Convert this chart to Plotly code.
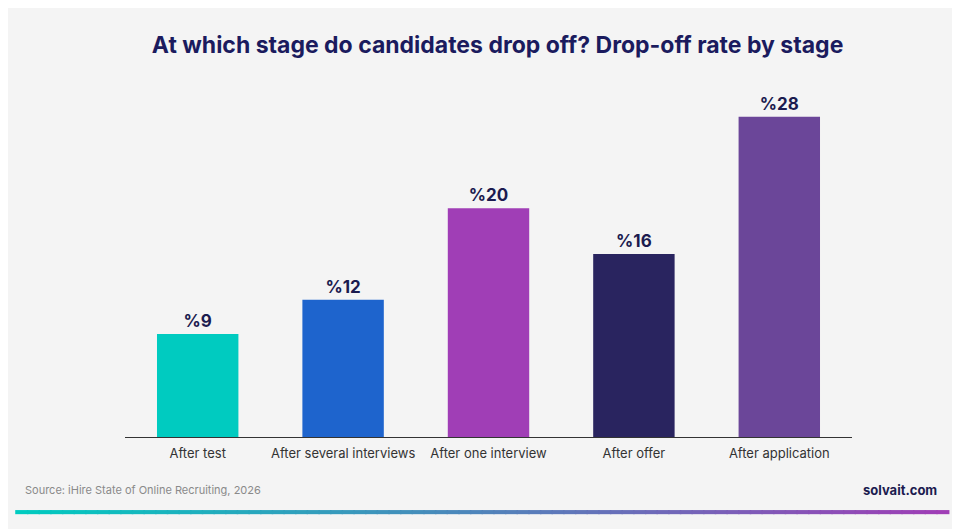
import plotly.graph_objects as go

stages = ['After test', 'After several interviews', 'After one interview', 'After offer', 'After application']
rates = [9, 12, 20, 16, 28]
colors = ['#00CBC0', '#1E64CD', '#A03EB6', '#29245F', '#6B4699']

fig = go.Figure(go.Bar(
    x=stages, y=rates,
    marker=dict(color=colors, line=dict(width=0)),
    text=[f'<b>%{r}</b>' for r in rates],
    textposition='outside',
    textfont=dict(family='Inter, Noto Sans', size=17, color='#1B1B4F'),
    cliponaxis=False,
))

# gradient strip at the bottom
n = 80
x_start, x_end = -0.151, 1.132
c0, c1 = (0x00, 0xCB, 0xC0), (0xA0, 0x3E, 0xB6)
shapes = []
step = (x_end - x_start) / n
for i in range(n):
    t = i / (n - 1)
    c = tuple(int(a + (b - a) * t) for a, b in zip(c0, c1))
    shapes.append(dict(type='rect', xref='paper', yref='paper',
                       x0=x_start + i * step, x1=x_start + (i + 1) * step + 0.002,
                       y0=-0.225, y1=-0.213, line=dict(width=0),
                       fillcolor='rgb(%d,%d,%d)' % c))

fig.update_layout(
    width=960, height=529,
    paper_bgcolor='#F4F4F4', plot_bgcolor='#F4F4F4',
    margin=dict(l=117, r=116, t=86, b=100),
    bargap=0.44,
    showlegend=False,
    shapes=shapes,
    title=dict(text='<b>At which stage do candidates drop off? Drop-off rate by stage</b>',
               x=0.51, xanchor='center', y=0.945,
               font=dict(family='Inter, Noto Sans', size=23, color='#1B1B5E')),
    font=dict(family='Inter, Noto Sans'),
    annotations=[
        dict(text='Source: iHire State of Online Recruiting, 2026', xref='paper', yref='paper',
             x=-0.14, y=-0.155, xanchor='left', yanchor='middle', showarrow=False,
             font=dict(size=11, color='#8A8A8A')),
        dict(text='<b>solvait.com</b>', xref='paper', yref='paper',
             x=1.12, y=-0.155, xanchor='right', yanchor='middle', showarrow=False,
             font=dict(size=13, color='#1B1B4F')),
    ],
)
fig.update_xaxes(showline=True, linecolor='#333333', linewidth=1,
                 tickfont=dict(size=13, color='#333333'), ticks='', ticklabelstandoff=4)
fig.update_yaxes(range=[0, 30], visible=False)

fig.write_html('out.html')
